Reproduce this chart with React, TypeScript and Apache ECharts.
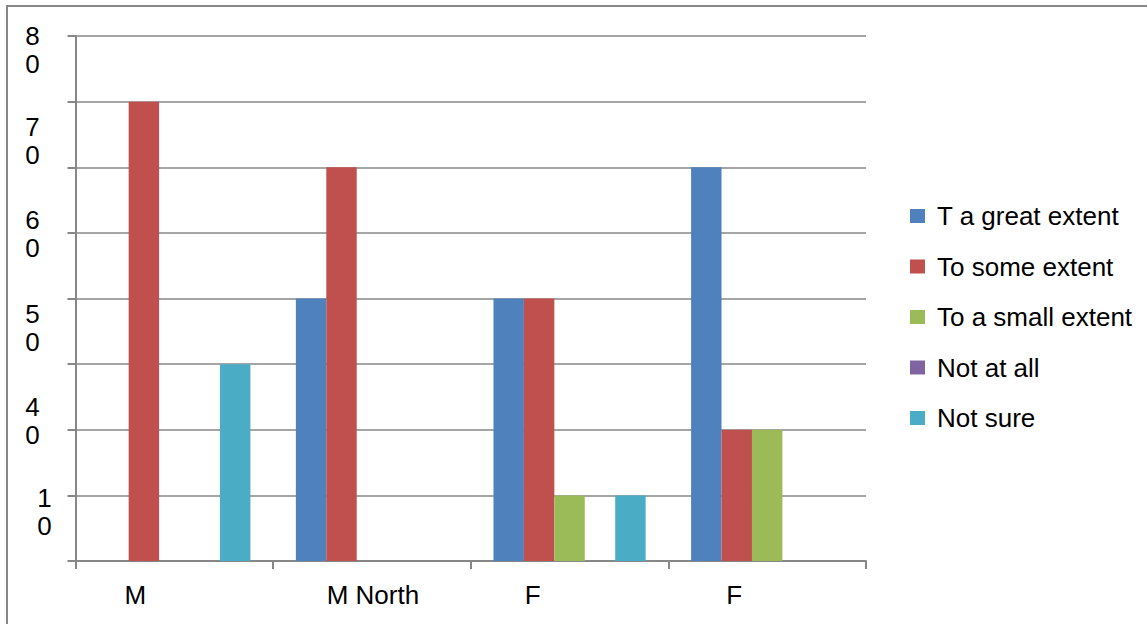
import React, { useEffect, useRef } from "react";
import * as echarts from "echarts";

const categories = ["M", "M North", "F", "F"];
const seriesNames = ["T a great extent", "To some extent", "To a small extent", "Not at all", "Not sure"];
const greatExtent = [0, 4, 4, 6];
const someExtent = [7, 6, 4, 2];
const smallExtent = [0, 0, 1, 2];
const notAtAll = [0, 0, 0, 0];
const notSure = [3, 0, 1, 0];
const yTickLabels = ["8\n0", "7\n0", "6\n0", "5\n0", "4\n0", "1\n0"];

const colors = ["#4F81BD", "#C0504D", "#9BBB59", "#8064A2", "#4BACC6"];
const FONT = "'Liberation Sans', Arial, sans-serif";
const GRAY = "#878787";

// layout of the odd y labels (centre x, centre y) – presentation only
const yLabelPos = [
  [32.5, 50],
  [32.5, 141],
  [32.5, 234],
  [32.5, 328],
  [32.5, 421],
  [44.5, 511.5],
];
// horizontal offsets of x labels relative to the category centre
const xLabelPad = [
  [0, 78, 0, 0],
  [0, 0, 0, 2],
  [0, 74, 0, 0],
  [0, 66, 0, 0],
];

export default function App() {
  const ref = useRef<HTMLDivElement>(null);
  useEffect(() => {
    if (!ref.current) return;
    const chart = echarts.init(ref.current, undefined, { renderer: "svg" });
    const values = [greatExtent, someExtent, smallExtent, notAtAll, notSure];
    const rich: any = {};
    xLabelPad.forEach((p, i) => {
      rich["l" + i] = { padding: p, fontSize: 26, fontFamily: FONT, color: "#000" };
    });
    chart.setOption({
      animation: false,
      backgroundColor: "#fff",
      color: colors,
      grid: { left: 75.5, right: 281, top: 36, bottom: 63 },
      legend: {
        orient: "vertical",
        left: 910,
        top: 203,
        padding: 0,
        itemWidth: 15,
        itemHeight: 14,
        itemGap: 24.5,
        icon: "rect",
        data: seriesNames,
        textStyle: {
          fontSize: 26,
          lineHeight: 26,
          fontFamily: FONT,
          color: "#000",
          padding: [0, 0, 0, 7],
        },
      },
      xAxis: {
        type: "category",
        data: categories,
        axisLine: { lineStyle: { color: GRAY, width: 2 } },
        axisTick: { show: true, length: 8, lineStyle: { color: GRAY, width: 2 } },
        axisLabel: {
          margin: 21,
          fontSize: 26,
          fontFamily: FONT,
          color: "#000",
          interval: 0,
          formatter: (v: string, i: number) => `{l${i}|${v}}`,
          rich,
        },
      },
      yAxis: {
        type: "value",
        min: 0,
        max: 8,
        interval: 1,
        axisLine: { show: true, lineStyle: { color: GRAY, width: 2 } },
        axisTick: { show: true, length: 8, lineStyle: { color: GRAY, width: 2 } },
        axisLabel: { show: false },
        splitLine: { show: true, lineStyle: { color: GRAY, width: 1.5 } },
      },
      series: seriesNames.map((name, i) => ({
        name,
        type: "bar",
        data: values[i],
        barGap: "0%",
        barCategoryGap: "23%",
      })),
      graphic: [
        {
          type: "polyline",
          shape: { points: [[7, 624], [7, 6], [1147, 6]] },
          style: { stroke: GRAY, lineWidth: 2, fill: "none" },
          silent: true,
        },
        ...yTickLabels.map((t, i) => ({
          type: "text",
          x: yLabelPos[i][0],
          y: yLabelPos[i][1],
          style: {
            text: t,
            fontSize: 26,
            lineHeight: 28,
            fontFamily: FONT,
            fill: "#000",
            align: "center",
            verticalAlign: "middle",
          },
        })),
      ],
    });
    return () => chart.dispose();
  }, []);
  return (
    <div
      ref={ref}
      style={{ position: "absolute", left: 0, top: 0, width: 1147, height: 624 }}
    />
  );
}
